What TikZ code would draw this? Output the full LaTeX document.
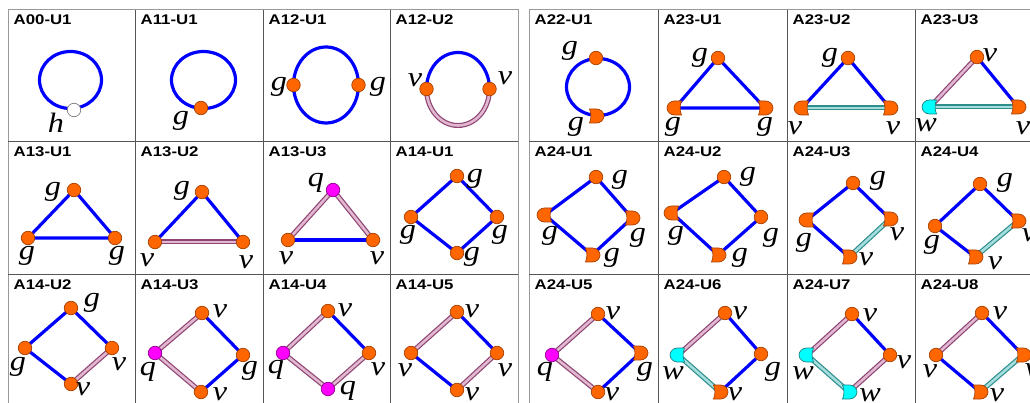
\documentclass[tikz,border=0pt]{standalone}
\usepackage{fontspec}
\newfontfamily\hdrfam{Liberation Sans}[FakeStretch=1.2]
\newfontfamily\lblfam{Liberation Serif}[FakeStretch=1.15]
\definecolor{orF}{HTML}{FF6600}
\definecolor{orD}{HTML}{A84000}
\definecolor{mgF}{HTML}{FF00FF}
\definecolor{mgD}{HTML}{900090}
\definecolor{cyF}{HTML}{00FFFF}
\definecolor{cyD}{HTML}{208080}
\definecolor{edB}{HTML}{0000FF}
\definecolor{pkD}{HTML}{8E4474}
\definecolor{pkL}{HTML}{E2B8D0}
\definecolor{tlD}{HTML}{2E8E8E}
\definecolor{tlL}{HTML}{A6DEDE}
\definecolor{gridO}{HTML}{999999}
\definecolor{gridI}{HTML}{555555}
\pgfdeclarelayer{back}
\pgfdeclarelayer{bg}
\pgfsetlayers{back,bg,main}
\begin{document}
\begin{tikzpicture}[x=1pt,y=-1pt,
  onode/.style={circle,fill=orF,draw=orD,line width=0.7pt,minimum size=13.5pt,inner sep=0pt},
  mnode/.style={circle,fill=mgF,draw=mgD,line width=0.7pt,minimum size=13.5pt,inner sep=0pt},
  wnode/.style={circle,fill=white,draw=gray,line width=0.7pt,minimum size=13.5pt,inner sep=0pt},
  hid/.style={circle,minimum size=13.5pt,inner sep=0pt},
  ofill/.style={fill=orF,draw=orD,line width=0.7pt},
  cfill/.style={fill=cyF,draw=cyD,line width=0.7pt},
  pics/hl/.style={code={\filldraw[#1] (6.5,-7) -- (-0.5,-7) .. controls (-4.5,-7) and (-8,-3.8) .. (-8,0) .. controls (-8,3.8) and (-4.5,7) .. (-0.5,7) -- (6.5,7) .. controls (4.6,2.6) and (4.6,-2.6) .. (6.5,-7) -- cycle;}},
  pics/hr/.style={code={\filldraw[#1,xscale=-1] (6.5,-7) -- (-0.5,-7) .. controls (-4.5,-7) and (-8,-3.8) .. (-8,0) .. controls (-8,3.8) and (-4.5,7) .. (-0.5,7) -- (6.5,7) .. controls (4.6,2.6) and (4.6,-2.6) .. (6.5,-7) -- cycle;}},
  eb/.style={draw=edB,line width=3.2pt},
  ep/.style={draw=pkD,line width=1.2pt,double=pkL,double distance=2.6pt},
  et/.style={draw=tlD,line width=1.2pt,double=tlL,double distance=2.6pt},
  lbl/.style={inner sep=0pt,font=\lblfam\itshape\fontsize{28}{28}\selectfont},
  hdr/.style={inner sep=0pt,anchor=base west,font=\hdrfam\bfseries\fontsize{14}{14}\selectfont}]
\useasboundingbox (0,0) rectangle (1030,403);
\begin{pgfonlayer}{back}
\fill[white] (0,0) rectangle (1030,403);
\end{pgfonlayer}
% grid
\draw[gridO,line width=1pt] (8,403) -- (8,10) -- (518,10) -- (518,403);
\draw[gridI,line width=1pt] (135,10)--(135,403) (263,10)--(263,403) (390,10)--(390,403) (8,142)--(518,142) (8,274)--(518,274);
\draw[gridO,line width=1pt] (529,403) -- (529,10) -- (1030,10);
\draw[gridI,line width=1pt] (658,10)--(658,403) (787,10)--(787,403) (915,10)--(915,403) (529,142)--(1030,142) (529,274)--(1030,274);
% headers
\node[hdr] (t1) at (13.5,25) {A00-U1};
\node[hdr] (t2) at (140.5,25) {A11-U1};
\node[hdr] (t3) at (268.5,25) {A12-U1};
\node[hdr] (t4) at (395.5,25) {A12-U2};
\node[hdr] (t5) at (534.5,25) {A22-U1};
\node[hdr] (t6) at (663.5,25) {A23-U1};
\node[hdr] (t7) at (792.5,25) {A23-U2};
\node[hdr] (t8) at (920.5,25) {A23-U3};
\node[hdr] (t9) at (13.5,157) {A13-U1};
\node[hdr] (t10) at (140.5,157) {A13-U2};
\node[hdr] (t11) at (268.5,157) {A13-U3};
\node[hdr] (t12) at (395.5,157) {A14-U1};
\node[hdr] (t13) at (534.5,157) {A24-U1};
\node[hdr] (t14) at (663.5,157) {A24-U2};
\node[hdr] (t15) at (792.5,157) {A24-U3};
\node[hdr] (t16) at (920.5,157) {A24-U4};
\node[hdr] (t17) at (13.5,289) {A14-U2};
\node[hdr] (t18) at (140.5,289) {A14-U3};
\node[hdr] (t19) at (268.5,289) {A14-U4};
\node[hdr] (t20) at (395.5,289) {A14-U5};
\node[hdr] (t21) at (534.5,289) {A24-U5};
\node[hdr] (t22) at (663.5,289) {A24-U6};
\node[hdr] (t23) at (792.5,289) {A24-U7};
\node[hdr] (t24) at (920.5,289) {A24-U8};

% ---------- Row 1 ----------
% A00-U1
\node[wnode] (a1) at (74,110) {};
\node[lbl] (a1l) at (56,123) {h};
% A11-U1
\node[onode] (b1) at (201,108) {};
\node[lbl] (b1l) at (181,121) {g};
% A12-U1
\node[onode] (c1) at (293.5,85) {};
\node[onode] (c2) at (358.5,85) {};
\node[lbl] (c1l) at (279,87) {g};
\node[lbl] (c2l) at (378,87) {g};
% A12-U2
\node[onode] (d1) at (426.5,89) {};
\node[onode] (d2) at (489.5,89) {};
\node[lbl] (d1l) at (415,80) {v};
\node[lbl] (d2l) at (505,78) {v};
% A22-U1
\node[onode] (e1) at (596,58) {};
\node[hid] (e2) at (596,116) {};
\pic at (e2) {hr=ofill};
\node[lbl] (e1l) at (570,51) {g};
\node[lbl] (e2l) at (576,127) {g};
% A23-U1
\node[onode] (f1) at (718,58) {};
\node[hid] (f2) at (675,108) {};
\node[hid] (f3) at (765,108) {};
\pic at (f2) {hl=ofill};
\pic at (f3) {hr=ofill};
\node[lbl] (f1l) at (700,58) {g};
\node[lbl] (f2l) at (673,127) {g};
\node[lbl] (f3l) at (765,127) {g};
% A23-U2
\node[onode] (g1) at (848,58) {};
\node[hid] (g2) at (802,108) {};
\node[hid] (g3) at (890,108) {};
\pic at (g2) {hl=ofill};
\pic at (g3) {hr=ofill};
\node[lbl] (g1l) at (830,58) {g};
\node[lbl] (g2l) at (795,128) {v};
\node[lbl] (g3l) at (893,128) {v};
% A23-U3
\node[onode] (h1) at (977,57) {};
\node[hid] (h2) at (930,107) {};
\node[hid] (h3) at (1018,107) {};
\pic at (h2) {hl=cfill};
\pic at (h3) {hr=ofill};
\node[lbl] (h1l) at (990,55) {v};
\node[lbl] (h2l) at (926,125) {w};
\node[lbl] (h3l) at (1023,128) {v};

% ---------- Row 2 ----------
% A13-U1
\node[onode] (i1) at (74,190) {};
\node[onode] (i2) at (28,238) {};
\node[onode] (i3) at (115,238) {};
\node[lbl] (i1l) at (53,192) {g};
\node[lbl] (i2l) at (27,256) {g};
\node[lbl] (i3l) at (117,256) {g};
% A13-U2
\node[onode] (j1) at (202,192) {};
\node[onode] (j2) at (155,242) {};
\node[onode] (j3) at (243,242) {};
\node[lbl] (j1l) at (182,191) {g};
\node[lbl] (j2l) at (147,260) {v};
\node[lbl] (j3l) at (246,262) {v};
% A13-U3
\node[mnode] (k1) at (333,190) {};
\node[onode] (k2) at (288,240) {};
\node[onode] (k3) at (373,240) {};
\node[lbl] (k1l) at (316,183) {q};
\node[lbl] (k2l) at (286,258) {v};
\node[lbl] (k3l) at (377,258) {v};
% A14-U1
\node[onode] (l1) at (457,176) {};
\node[onode] (l2) at (411,217) {};
\node[onode] (l3) at (497,217) {};
\node[onode] (l4) at (457,253) {};
\node[lbl] (l1l) at (475,179) {g};
\node[lbl] (l2l) at (408,235) {g};
\node[lbl] (l3l) at (500,235) {g};
\node[lbl] (l4l) at (472,257) {g};
% A24-U1
\node[onode] (m1) at (596,177) {};
\node[hid] (m2) at (545,215) {};
\node[hid] (m3) at (632,218) {};
\node[hid] (m4) at (592,255) {};
\pic at (m2) {hl=ofill};
\pic at (m3) {hr=ofill};
\pic at (m4) {hr=ofill};
\node[lbl] (m1l) at (620,180) {g};
\node[lbl] (m2l) at (550,236) {g};
\node[lbl] (m3l) at (638,238) {g};
\node[lbl] (m4l) at (612,258) {g};
% A24-U2
\node[onode] (n1) at (724,177) {};
\node[hid] (n2) at (672,213) {};
\node[onode] (n3) at (761,217) {};
\node[hid] (n4) at (718,255) {};
\pic at (n2) {hl=ofill};
\pic at (n4) {hr=ofill};
\node[lbl] (n1l) at (748,177) {g};
\node[lbl] (n2l) at (676,236) {g};
\node[lbl] (n3l) at (771,238) {g};
\node[lbl] (n4l) at (740,258) {g};
% A24-U3
\node[onode] (o1) at (853,183) {};
\node[hid] (o2) at (807,220) {};
\node[hid] (o3) at (890,219) {};
\node[hid] (o4) at (849,257) {};
\pic at (o2) {hl=ofill};
\pic at (o3) {hr=ofill};
\pic at (o4) {hr=ofill};
\node[lbl] (o1l) at (878,181) {g};
\node[lbl] (o2l) at (804,243) {g};
\node[lbl] (o3l) at (897,234) {v};
\node[lbl] (o4l) at (866,259) {v};
% A24-U4
\node[onode] (p1) at (980,184) {};
\node[onode] (p2) at (935,226) {};
\node[hid] (p3) at (1018,221) {};
\node[hid] (p4) at (975,257) {};
\pic at (p3) {hr=ofill};
\pic at (p4) {hr=ofill};
\node[lbl] (p1l) at (1005,183) {g};
\node[lbl] (p2l) at (932,245) {g};
\node[lbl] (p3l) at (1029,235) {v};
\node[lbl] (p4l) at (995,263) {v};

% ---------- Row 3 ----------
% A14-U2
\node[onode] (q1) at (71,308) {};
\node[onode] (q2) at (25,348) {};
\node[onode] (q3) at (112,348) {};
\node[onode] (q4) at (71,384) {};
\node[lbl] (q1l) at (92,303) {g};
\node[lbl] (q2l) at (18,367) {g};
\node[lbl] (q3l) at (119,364) {v};
\node[lbl] (q4l) at (83,389) {v};
% A14-U3
\node[onode] (r1) at (202,313) {};
\node[mnode] (r2) at (155,353) {};
\node[onode] (r3) at (243,355) {};
\node[onode] (r4) at (201,392) {};
\node[lbl] (r1l) at (220,311) {v};
\node[lbl] (r2l) at (148,372) {q};
\node[lbl] (r3l) at (250,371) {g};
\node[lbl] (r4l) at (220,394) {v};
% A14-U4
\node[onode] (s1) at (328,311) {};
\node[mnode] (s2) at (283,353) {};
\node[onode] (s3) at (369,353) {};
\node[mnode] (s4) at (328,389) {};
\node[lbl] (s1l) at (345,310) {v};
\node[lbl] (s2l) at (276,370) {q};
\node[lbl] (s3l) at (378,369) {v};
\node[lbl] (s4l) at (348,391) {q};
% A14-U5
\node[onode] (u1) at (457,312) {};
\node[onode] (u2) at (411,353) {};
\node[onode] (u3) at (497,353) {};
\node[onode] (u4) at (457,390) {};
\node[lbl] (u1l) at (472,311) {v};
\node[lbl] (u2l) at (405,370) {v};
\node[lbl] (u3l) at (505,370) {v};
\node[lbl] (u4l) at (472,394) {v};
% A24-U5
\node[onode] (v1) at (598,314) {};
\node[mnode] (v2) at (552,355) {};
\node[hid] (v3) at (640,353) {};
\node[onode] (v4) at (598,392) {};
\pic at (v3) {hr=ofill};
\node[lbl] (v1l) at (613,313) {v};
\node[lbl] (v2l) at (545,372) {q};
\node[lbl] (v3l) at (645,372) {g};
\node[lbl] (v4l) at (612,394) {v};
% A24-U6
\node[onode] (w1) at (725,313) {};
\node[hid] (w2) at (678,355) {};
\node[onode] (w3) at (761,354) {};
\node[hid] (w4) at (720,392) {};
\pic at (w2) {hl=cfill};
\pic at (w4) {hr=ofill};
\node[lbl] (w1l) at (740,313) {v};
\node[lbl] (w2l) at (673,373) {w};
\node[lbl] (w3l) at (773,372) {g};
\node[lbl] (w4l) at (735,394) {v};
% A24-U7
\node[onode] (x1) at (852,314) {};
\node[hid] (x2) at (807,355) {};
\node[onode] (x3) at (890,355) {};
\node[hid] (x4) at (849,392) {};
\pic at (x2) {hl=cfill};
\pic at (x4) {hr=cfill};
\node[lbl] (x1l) at (870,315) {v};
\node[lbl] (x2l) at (803,373) {w};
\node[lbl] (x3l) at (904,362) {v};
\node[lbl] (x4l) at (870,395) {w};
% A24-U8
\node[onode] (y1) at (982,313) {};
\node[onode] (y2) at (936,355) {};
\node[hid] (y3) at (1023,355) {};
\node[hid] (y4) at (980,392) {};
\pic at (y3) {hr=ofill};
\pic at (y4) {hr=ofill};
\node[lbl] (y1l) at (1000,313) {v};
\node[lbl] (y2l) at (930,371) {v};
\node[lbl] (y3l) at (1032,370) {v};
\node[lbl] (y4l) at (997,395) {v};

% ---------- edges ----------
\begin{pgfonlayer}{bg}
\draw[eb] (70.5,80) ellipse [x radius=31,y radius=28.5];
\draw[eb] (203.5,80) ellipse [x radius=32,y radius=28.5];
\draw[eb] (c1.center) arc[start angle=180,end angle=360,x radius=32.5,y radius=38];
\draw[eb] (c1.center) arc[start angle=180,end angle=0,x radius=32.5,y radius=38];
\draw[eb] (d1.center) arc[start angle=180,end angle=360,x radius=31.5,y radius=36.5];
\draw[ep] (d1.center) arc[start angle=180,end angle=0,x radius=31.5,y radius=36.5];
\draw[eb] (598,87) ellipse [x radius=31.5,y radius=28.5];
% A23
\draw[eb] (f2.center) -- (f1.center) -- (f3.center) -- (f2.center);
\draw[eb] (g2.center) -- (g1.center) -- (g3.center);
\draw[et] (g2.center) -- (g3.center);
\draw[ep] (h2.center) -- (h1.center);
\draw[eb] (h1.center) -- (h3.center);
\draw[et] (h2.center) -- (h3.center);
% row 2
\draw[eb] (i2.center) -- (i1.center) -- (i3.center) -- (i2.center);
\draw[eb] (j2.center) -- (j1.center) -- (j3.center);
\draw[ep] (j2.center) -- (j3.center);
\draw[ep] (k2.center) -- (k1.center);
\draw[ep] (k1.center) -- (k3.center);
\draw[eb] (k2.center) -- (k3.center);
\draw[eb] (l1.center) -- (l3.center) -- (l4.center) -- (l2.center) -- (l1.center);
\draw[eb] (m1.center) -- (m3.center) -- (m4.center) -- (m2.center) -- (m1.center);
\draw[eb] (n1.center) -- (n3.center) -- (n4.center) -- (n2.center) -- (n1.center);
\draw[eb] (o3.center) -- (o1.center) -- (o2.center) -- (o4.center);
\draw[et] (o3.center) -- (o4.center);
\draw[eb] (p3.center) -- (p1.center) -- (p2.center) -- (p4.center);
\draw[et] (p3.center) -- (p4.center);
% row 3
\draw[eb] (q3.center) -- (q1.center) -- (q2.center) -- (q4.center);
\draw[ep] (q3.center) -- (q4.center);
\draw[ep] (r1.center) -- (r2.center) -- (r4.center);
\draw[eb] (r1.center) -- (r3.center) -- (r4.center);
\draw[ep] (s1.center) -- (s2.center) -- (s4.center) -- (s3.center);
\draw[eb] (s1.center) -- (s3.center);
\draw[ep] (u1.center) -- (u2.center);
\draw[eb] (u1.center) -- (u3.center);
\draw[ep] (u3.center) -- (u4.center);
\draw[eb] (u2.center) -- (u4.center);
\draw[ep] (v1.center) -- (v2.center) -- (v4.center);
\draw[eb] (v1.center) -- (v3.center) -- (v4.center);
\draw[ep] (w1.center) -- (w2.center);
\draw[et] (w2.center) -- (w4.center);
\draw[eb] (w1.center) -- (w3.center) -- (w4.center);
\draw[ep] (x1.center) -- (x2.center);
\draw[et] (x2.center) -- (x4.center);
\draw[eb] (x1.center) -- (x3.center);
\draw[ep] (x3.center) -- (x4.center);
\draw[ep] (y1.center) -- (y2.center);
\draw[eb] (y1.center) -- (y3.center);
\draw[et] (y3.center) -- (y4.center);
\draw[eb] (y2.center) -- (y4.center);
\end{pgfonlayer}
\end{tikzpicture}
\end{document}
